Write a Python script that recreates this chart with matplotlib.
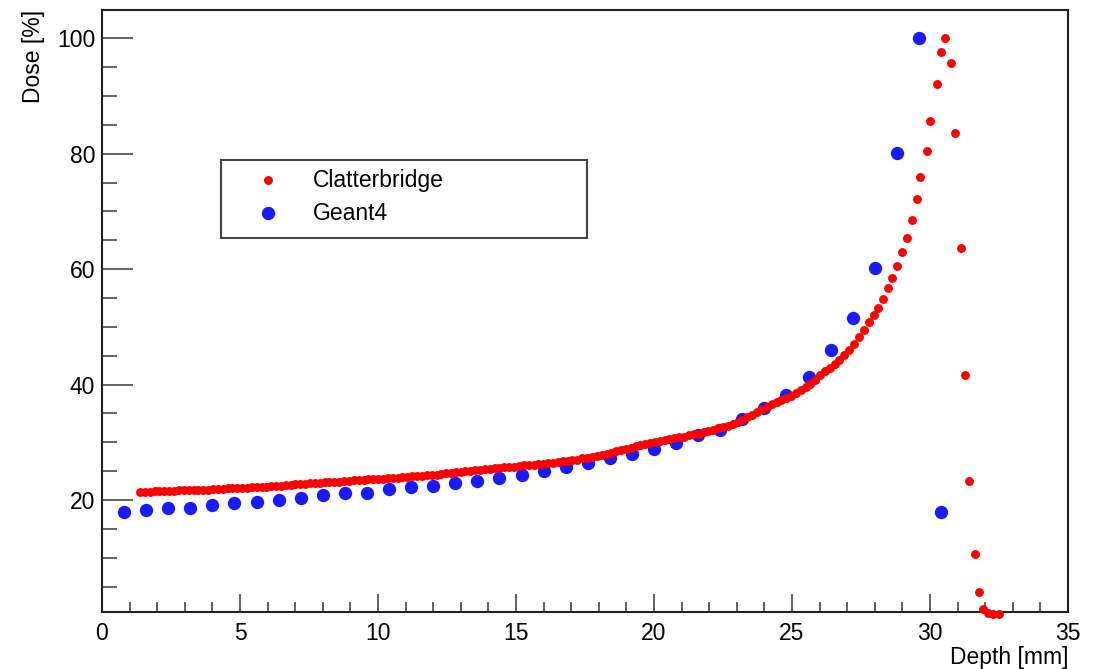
import numpy as np
import matplotlib
matplotlib.use("Agg")
import matplotlib.pyplot as plt
from matplotlib.patches import Rectangle
from matplotlib.ticker import MultipleLocator

plt.rcParams['font.family'] = ['Liberation Sans', 'DejaVu Sans']

# Clatterbridge measurement (depth in mm, dose in %)
clat_depth = [
    1.38, 1.56, 1.73, 1.91, 2.08, 2.26, 2.44, 2.61, 2.79, 2.96,
    3.14, 3.32, 3.49, 3.67, 3.84, 4.02, 4.20, 4.37, 4.55, 4.72,
    4.90, 5.08, 5.25, 5.43, 5.60, 5.78, 5.96, 6.13, 6.31, 6.48,
    6.66, 6.84, 7.01, 7.19, 7.36, 7.54, 7.72, 7.89, 8.07, 8.24,
    8.42, 8.60, 8.77, 8.95, 9.12, 9.30, 9.48, 9.65, 9.83, 10.00,
    10.18, 10.36, 10.53, 10.71, 10.88, 11.06, 11.24, 11.41, 11.59, 11.76,
    11.94, 12.12, 12.29, 12.47, 12.64, 12.82, 13.00, 13.17, 13.35, 13.52,
    13.70, 13.88, 14.05, 14.23, 14.40, 14.58, 14.76, 14.93, 15.11, 15.28,
    15.46, 15.64, 15.81, 15.99, 16.16, 16.34, 16.52, 16.69, 16.87, 17.04,
    17.22, 17.40, 17.57, 17.75, 17.92, 18.10, 18.28, 18.45, 18.63, 18.80,
    18.98, 19.16, 19.33, 19.51, 19.68, 19.86, 20.04, 20.21, 20.39, 20.56,
    20.74, 20.92, 21.09, 21.27, 21.44, 21.62, 21.80, 21.97, 22.15, 22.32,
    22.50, 22.68, 22.85, 23.03, 23.20, 23.38, 23.56, 23.73, 23.91, 24.08,
    24.26, 24.44, 24.61, 24.79, 24.96, 25.14, 25.32, 25.49, 25.67, 25.84,
    26.02, 26.20, 26.37, 26.55, 26.72, 26.90, 27.08, 27.25, 27.43, 27.60,
    27.78, 27.96, 28.13, 28.31, 28.48,
    28.63, 28.79, 29.00, 29.16, 29.36, 29.52, 29.65, 29.88, 30.01, 30.24,
    30.39, 30.54, 30.76, 30.89, 31.12, 31.27, 31.41, 31.63, 31.79, 31.93,
    32.11, 32.29, 32.50,
]
clat_dose = [
    21.4, 21.4, 21.4, 21.5, 21.5, 21.5, 21.6, 21.6, 21.7, 21.7,
    21.7, 21.8, 21.8, 21.8, 21.8, 21.9, 21.9, 21.9, 22.0, 22.0,
    22.0, 22.1, 22.1, 22.2, 22.2, 22.3, 22.3, 22.4, 22.4, 22.5,
    22.6, 22.6, 22.7, 22.8, 22.8, 22.9, 22.9, 23.0, 23.1, 23.1,
    23.2, 23.2, 23.3, 23.3, 23.4, 23.4, 23.5, 23.6, 23.6, 23.7,
    23.7, 23.8, 23.9, 23.9, 24.0, 24.0, 24.1, 24.2, 24.2, 24.3,
    24.3, 24.4, 24.5, 24.6, 24.7, 24.8, 24.9, 25.0, 25.1, 25.2,
    25.2, 25.3, 25.4, 25.5, 25.6, 25.7, 25.8, 25.8, 25.9, 26.0,
    26.0, 26.1, 26.2, 26.3, 26.4, 26.5, 26.6, 26.7, 26.8, 26.9,
    27.0, 27.2, 27.3, 27.5, 27.6, 27.8, 28.0, 28.2, 28.5, 28.7,
    28.9, 29.1, 29.3, 29.5, 29.7, 29.8, 30.0, 30.2, 30.4, 30.5,
    30.7, 30.9, 31.0, 31.2, 31.4, 31.5, 31.8, 32.0, 32.2, 32.4,
    32.7, 32.9, 33.2, 33.5, 33.9, 34.3, 34.8, 35.2, 35.7, 36.1,
    36.6, 37.0, 37.3, 37.7, 38.1, 38.6, 39.1, 39.6, 40.1, 40.8,
    41.6, 42.3, 42.9, 43.6, 44.3, 45.1, 46.0, 47.0, 48.2, 49.4,
    50.9, 52.1, 53.2, 54.9, 56.7,
    58.4, 60.5, 62.9, 65.4, 68.6, 72.1, 75.9, 80.4, 85.7, 92.0,
    97.6, 100.0, 95.8, 83.6, 63.7, 41.7, 23.3, 10.6, 4.0, 1.2,
    0.5, 0.3, 0.3,
]

# Geant4 simulation
g4_depth = [
    0.8, 1.6, 2.4, 3.2, 4.0, 4.8, 5.6, 6.4, 7.2, 8.0,
    8.8, 9.6, 10.4, 11.2, 12.0, 12.8, 13.6, 14.4, 15.2, 16.0,
    16.8, 17.6, 18.4, 19.2, 20.0, 20.8, 21.6, 22.4, 23.2, 24.0,
    24.8, 25.6, 26.4, 27.2, 28.0, 28.8, 29.6, 30.4,
]
g4_dose = [
    17.95, 18.25, 18.7, 18.65, 19.1, 19.5, 19.7, 20.0, 20.4, 20.85,
    21.25, 21.15, 21.85, 22.2, 22.5, 22.9, 23.3, 23.9, 24.3, 25.0,
    25.65, 26.45, 27.2, 27.9, 28.8, 29.8, 31.25, 32.2, 34.0, 35.9,
    38.2, 41.35, 46.0, 51.5, 60.2, 80.1, 100.0, 17.95,
]

fs = 16.5
red_ms = 6.4
blue_ms = 9.6
blue = '#1a1aff'
fig = plt.figure(figsize=(11.02, 6.69), dpi=100)
ax = fig.add_axes([102 / 1102, 1 - 612 / 669, 966 / 1102, 602 / 669])

ax.plot(g4_depth, g4_dose, ls='none', marker='o', ms=blue_ms, color=blue,
        mec='none', clip_on=False, zorder=3)
ax.plot(clat_depth, clat_dose, ls='none', marker='o', ms=red_ms, color='#ff0000',
        mec='none', clip_on=False, zorder=4)

ax.set_xlim(0, 35)
ax.set_ylim(0.6, 104.9)
ax.xaxis.set_major_locator(MultipleLocator(5))
ax.xaxis.set_minor_locator(MultipleLocator(1))
ax.set_yticks([20, 40, 60, 80, 100])
ax.yaxis.set_minor_locator(MultipleLocator(5))

for side in ['top', 'right', 'bottom', 'left']:
    ax.spines[side].set_linewidth(1.5)
    ax.spines[side].set_color('#222222')
ax.tick_params(axis='both', which='both', direction='in', top=False, right=False,
               color='#555555', width=1.3, labelsize=fs)
ax.tick_params(axis='x', which='major', length=13, pad=7)
ax.tick_params(axis='x', which='minor', length=7)
ax.tick_params(axis='y', which='major', length=22, pad=5)
ax.tick_params(axis='y', which='minor', length=11)

ax.text(-0.0714, 1.0, 'Dose [%]', rotation=90, ha='center', va='top',
        fontsize=fs, transform=ax.transAxes)
ax.text(1.0, -0.0748, 'Depth [mm]', ha='right', va='center',
        fontsize=fs, transform=ax.transAxes)

# ROOT style legend box
leg_x0, leg_x1 = (221 - 102) / 966, (587 - 102) / 966
leg_y0, leg_y1 = (612 - 238) / 602, (612 - 160) / 602
ax.add_patch(Rectangle((leg_x0, leg_y0), leg_x1 - leg_x0, leg_y1 - leg_y0,
                       transform=ax.transAxes, fill=True, facecolor='white',
                       edgecolor='#444444', lw=1.5, zorder=5))
row_y = [(612 - 180) / 602, (612 - 213) / 602]
mark_x = (268 - 102) / 966
text_x = (313 - 102) / 966
ax.plot([mark_x], [row_y[0]], ls='none', marker='o', ms=red_ms, color='#ff0000',
        mec='none', transform=ax.transAxes, zorder=6)
ax.plot([mark_x], [row_y[1]], ls='none', marker='o', ms=blue_ms, color=blue,
        mec='none', transform=ax.transAxes, zorder=6)
ax.text(text_x, row_y[0], 'Clatterbridge', ha='left', va='center', fontsize=fs,
        transform=ax.transAxes, zorder=6)
ax.text(text_x, row_y[1], 'Geant4', ha='left', va='center', fontsize=fs,
        transform=ax.transAxes, zorder=6)

fig.savefig('out.png', dpi=100)
